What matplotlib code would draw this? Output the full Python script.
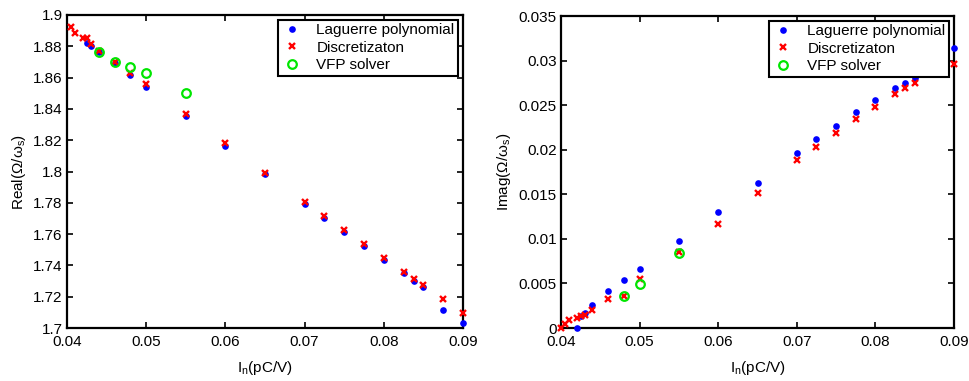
import matplotlib
matplotlib.use("Agg")
import matplotlib.pyplot as plt

plt.rcParams['font.family'] = ['Liberation Sans', 'DejaVu Sans']
plt.rcParams['mathtext.default'] = 'regular'

# ---- Left panel: real part ----
lag_x_re = [0.0425, 0.043, 0.044, 0.046, 0.048, 0.05, 0.055, 0.06, 0.065, 0.07, 0.0725,
            0.075, 0.0775, 0.08, 0.0825, 0.08375, 0.085, 0.0875, 0.09]
lag_y_re = [1.8819, 1.8800, 1.8765, 1.8695, 1.8614, 1.8542, 1.8356, 1.8166, 1.7981, 1.7795,
            1.7706, 1.7614, 1.7525, 1.7437, 1.7352, 1.7303, 1.7260, 1.7115, 1.7034]
dis_x_re = [0.0405, 0.041, 0.042, 0.0425, 0.043, 0.044, 0.046, 0.048, 0.05, 0.055, 0.06,
            0.065, 0.07, 0.0725, 0.075, 0.0775, 0.08, 0.0825, 0.08375, 0.085, 0.0875, 0.09]
dis_y_re = [1.8925, 1.8887, 1.8853, 1.8853, 1.8817, 1.8772, 1.8701, 1.8631, 1.8559, 1.8367,
            1.8179, 1.7991, 1.7806, 1.7716, 1.7625, 1.7537, 1.7448, 1.7358, 1.7316, 1.7277,
            1.7186, 1.7098]
vfp_x_re = [0.044, 0.046, 0.048, 0.05, 0.055]
vfp_y_re = [1.8765, 1.8697, 1.8670, 1.8629, 1.8499]

# ---- Right panel: imaginary part ----
lag_x_im = [0.042, 0.0425, 0.043, 0.044, 0.046, 0.048, 0.05, 0.055, 0.06, 0.065, 0.07,
            0.0725, 0.075, 0.0775, 0.08, 0.0825, 0.08375, 0.085, 0.0875, 0.09]
lag_y_im = [0.0, 0.00131, 0.00169, 0.00258, 0.0042, 0.00536, 0.00659, 0.00978, 0.0130,
            0.0163, 0.0196, 0.0212, 0.0227, 0.0242, 0.02554, 0.0269, 0.0275, 0.0281,
            0.0297, 0.03146]
dis_x_im = [0.04, 0.0405, 0.041, 0.042, 0.0425, 0.043, 0.044, 0.046, 0.048, 0.05, 0.055,
            0.06, 0.065, 0.07, 0.0725, 0.075, 0.0775, 0.08, 0.0825, 0.08375, 0.085, 0.0875, 0.09]
dis_y_im = [0.0, 0.00045, 0.00086, 0.0011, 0.00131, 0.00142, 0.00206, 0.00326, 0.00363,
            0.0055, 0.0085, 0.01169, 0.01517, 0.0188, 0.0203, 0.0219, 0.0234, 0.0248,
            0.0263, 0.0269, 0.0275, 0.0286, 0.0296]
vfp_x_im = [0.048, 0.05, 0.055]
vfp_y_im = [0.00356, 0.00498, 0.00846]

labels = ['Laguerre polynomial', 'Discretizaton', 'VFP solver']
xticks = [0.04, 0.05, 0.06, 0.07, 0.08, 0.09]
xtick_labels = ['0.04', '0.05', '0.06', '0.07', '0.08', '0.09']
yticks_re = [1.7, 1.72, 1.74, 1.76, 1.78, 1.8, 1.82, 1.84, 1.86, 1.88, 1.9]
ytick_labels_re = ['1.7', '1.72', '1.74', '1.76', '1.78', '1.8', '1.82', '1.84', '1.86', '1.88', '1.9']
yticks_im = [0, 0.005, 0.01, 0.015, 0.02, 0.025, 0.03, 0.035]
ytick_labels_im = ['0', '0.005', '0.01', '0.015', '0.02', '0.025', '0.03', '0.035']

fig = plt.figure(figsize=(9.7, 3.81), dpi=100)
W, H = 970, 381
axL = fig.add_axes([67 / W, (H - 328) / H, 396 / W, 313 / H])
axR = fig.add_axes([561 / W, (H - 328) / H, 393 / W, 312 / H])

green = '#00e600'

def draw(ax, lx, ly, dx, dy, vx, vy, yt, ytl, ylim, ylabel):
    ax.plot(lx, ly, 'o', color='blue', markersize=4.8, markeredgewidth=0, label=labels[0],
            clip_on=False, zorder=3)
    ax.plot(dx, dy, 'x', color='red', markersize=3.8, markeredgewidth=1.7, label=labels[1],
            clip_on=False, zorder=4)
    ax.plot(vx, vy, 'o', markerfacecolor='none', markeredgecolor=green, markersize=6.2,
            markeredgewidth=1.6, label=labels[2], clip_on=False, zorder=5)
    ax.set_xlim(0.04, 0.09)
    ax.set_ylim(*ylim)
    ax.set_xticks(xticks)
    ax.set_xticklabels(xtick_labels)
    ax.set_yticks(yt)
    ax.set_yticklabels(ytl)
    ax.tick_params(direction='in', length=4, width=1.2, top=True, right=True,
                   labelsize=11)
    ax.tick_params(axis='x', pad=5)
    ax.tick_params(axis='y', pad=3)
    for s in ax.spines.values():
        s.set_linewidth(1.6)
    ax.set_xlabel('I$_{n}$(pC/V)', fontsize=11, labelpad=7)
    ax.set_ylabel(ylabel, fontsize=11, labelpad=4)
    leg = ax.legend(loc='upper right', fontsize=11, frameon=True, fancybox=False,
                    borderaxespad=0.3, handlelength=1.4, handletextpad=0.9,
                    labelspacing=0.22, borderpad=0.25, numpoints=1)
    leg.get_frame().set_edgecolor('black')
    leg.get_frame().set_linewidth(1.5)
    leg.get_frame().set_alpha(1)
    leg.set_zorder(10)

draw(axL, lag_x_re, lag_y_re, dis_x_re, dis_y_re, vfp_x_re, vfp_y_re,
     yticks_re, ytick_labels_re, (1.7, 1.9), 'Real(Ω/ω$_{s}$)')
draw(axR, lag_x_im, lag_y_im, dis_x_im, dis_y_im, vfp_x_im, vfp_y_im,
     yticks_im, ytick_labels_im, (0, 0.035), 'Imag(Ω/ω$_{s}$)')

fig.savefig('out.png', dpi=100)
